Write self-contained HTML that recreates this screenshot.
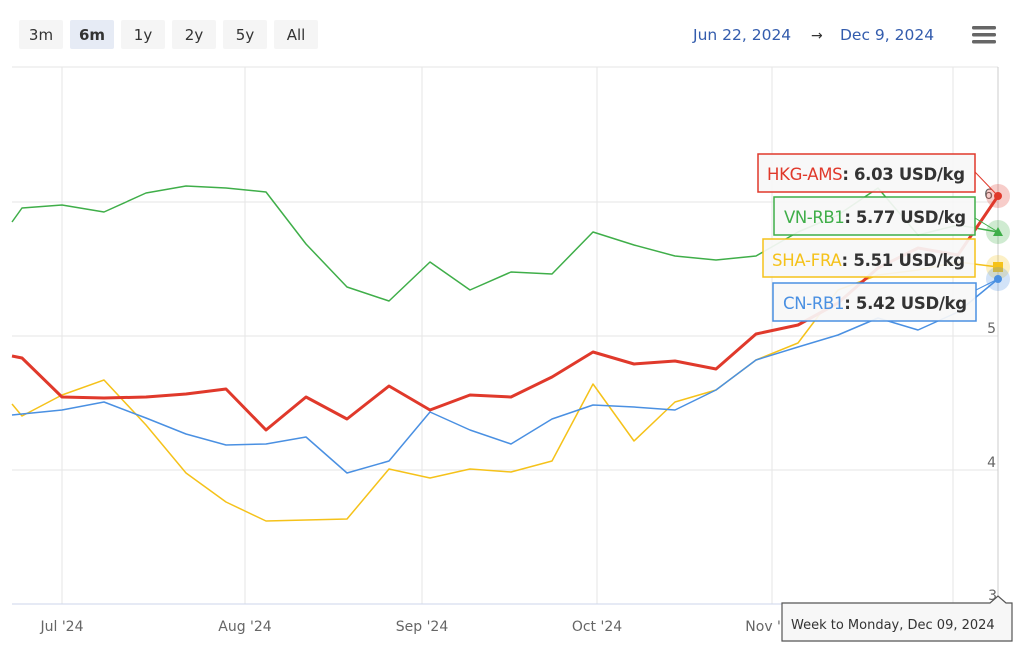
<!DOCTYPE html>
<html><head><meta charset="utf-8"><style>
body{margin:0;background:#fff;width:1024px;height:655px;overflow:hidden;font-family:"Liberation Sans","DejaVu Sans",sans-serif}
svg text{font-family:"DejaVu Sans","Liberation Sans",sans-serif}
</style></head><body>
<svg width="1024" height="655" xmlns="http://www.w3.org/2000/svg">
<g font-size="15" fill="#333">
<rect x="19" y="20" width="44" height="29" rx="2" fill="#f5f5f5"/><text x="41" y="40" text-anchor="middle">3m</text>
<rect x="70" y="20" width="44" height="29" rx="2" fill="#e6ebf5"/><text x="92" y="40" text-anchor="middle" font-weight="bold">6m</text>
<rect x="121" y="20" width="44" height="29" rx="2" fill="#f5f5f5"/><text x="143" y="40" text-anchor="middle">1y</text>
<rect x="172" y="20" width="44" height="29" rx="2" fill="#f5f5f5"/><text x="194" y="40" text-anchor="middle">2y</text>
<rect x="223" y="20" width="44" height="29" rx="2" fill="#f5f5f5"/><text x="245" y="40" text-anchor="middle">5y</text>
<rect x="274" y="20" width="44" height="29" rx="2" fill="#f5f5f5"/><text x="296" y="40" text-anchor="middle">All</text>
</g>
<text x="693" y="40" font-size="15.5" fill="#335cad">Jun 22, 2024</text>
<text x="811" y="40" font-size="14" fill="#333">→</text>
<text x="840" y="40" font-size="15.5" fill="#335cad">Dec 9, 2024</text>
<g fill="#666"><rect x="972" y="26" width="24" height="3.5" rx="1.5"/><rect x="972" y="33" width="24" height="3.5" rx="1.5"/><rect x="972" y="40" width="24" height="3.5" rx="1.5"/></g>
<g stroke="#e6e6e6" stroke-width="1">
<line x1="12" y1="67" x2="998" y2="67"/>
<line x1="12" y1="202" x2="998" y2="202"/><line x1="12" y1="336" x2="998" y2="336"/><line x1="12" y1="470" x2="998" y2="470"/>
<line x1="62" y1="67" x2="62" y2="604"/><line x1="245" y1="67" x2="245" y2="604"/><line x1="422" y1="67" x2="422" y2="604"/><line x1="597" y1="67" x2="597" y2="604"/><line x1="772" y1="67" x2="772" y2="604"/><line x1="953" y1="67" x2="953" y2="604"/>
</g>
<line x1="12" y1="604" x2="998" y2="604" stroke="#ccd6eb"/>
<line x1="998" y1="67" x2="998" y2="604" stroke="#ccc"/>
<g font-size="14" fill="#666">
<text x="993" y="199" text-anchor="end">6</text><text x="996" y="333" text-anchor="end">5</text><text x="996" y="467" text-anchor="end">4</text><text x="997" y="600" text-anchor="end">3</text>
<text x="62" y="631" text-anchor="middle">Jul '24</text><text x="245" y="631" text-anchor="middle">Aug '24</text><text x="422" y="631" text-anchor="middle">Sep '24</text><text x="597" y="631" text-anchor="middle">Oct '24</text><text x="772" y="631" text-anchor="middle">Nov '24</text>
</g>
<g fill="none" stroke-linejoin="round">
<polyline stroke="#3fae49" stroke-width="1.5" points="12,222 22,208 62,205 104,212 146,193 186,186 226,188 266,192 306,244 347,287 389,301 430,262 470,290 511,272 552,274 593,232 634,245 675,256 716,260 756,256 798,232 838,215 878,188 918,235 958,225 998,232"/>
<polyline stroke="#f5c21a" stroke-width="1.5" points="12,404 22,416 62,395 104,380 146,425 186,473 226,502 266,521 306,520 347,519 389,469 430,478 470,469 511,472 552,461 593,384 634,441 675,402 716,390 756,360 798,343 838,290 878,275 918,270 958,262 998,267"/>
<polyline stroke="#4a90e2" stroke-width="1.5" points="12,415 62,410 104,402 146,418 186,434 226,445 266,444 306,437 347,473 389,461 430,412 470,430 511,444 552,419 593,405 634,407 675,410 716,390 756,360 798,347 838,335 878,318 918,330 958,312 998,279"/>
<polyline stroke="#e0392b" stroke-width="3" points="12,356 22,358 62,397 104,398 146,397 186,394 226,389 266,430 306,397 347,419 389,386 430,410 470,395 511,397 552,377 593,352 634,364 675,361 716,369 756,334 798,325 838,303 878,268 918,248 958,255 998,196"/>
</g>
<circle cx="998" cy="196" r="12" fill="#e0392b" opacity="0.25"/><circle cx="998" cy="196" r="4" fill="#e0392b"/>
<circle cx="998" cy="232" r="12" fill="#3fae49" opacity="0.25"/><polygon points="998,227 1003,236 993,236" fill="#3fae49"/>
<circle cx="998" cy="267" r="12" fill="#f5c21a" opacity="0.25"/><rect x="993" y="262" width="10" height="10" fill="#f5c21a"/>
<circle cx="998" cy="279" r="12" fill="#4a90e2" opacity="0.25"/><circle cx="998" cy="279" r="4" fill="#4a90e2"/>
<g font-size="16.5" font-weight="bold" fill="#333">
<rect x="758" y="154" width="217" height="38" fill="#f7f7f7" fill-opacity="0.92" stroke="#e0392b" stroke-width="1.5"/>
<line x1="975" y1="172" x2="998" y2="196" stroke="#e0392b"/>
<text x="767" y="180" textLength="198"><tspan fill="#e0392b" font-weight="normal">HKG-AMS</tspan>: 6.03 USD/kg</text>
<rect x="774" y="197" width="201" height="38" fill="#f7f7f7" fill-opacity="0.92" stroke="#3fae49" stroke-width="1.5"/>
<line x1="975" y1="218" x2="998" y2="232" stroke="#3fae49"/>
<text x="784" y="223" textLength="182"><tspan fill="#3fae49" font-weight="normal">VN-RB1</tspan>: 5.77 USD/kg</text>
<rect x="763" y="239" width="212" height="38" fill="#f7f7f7" fill-opacity="0.92" stroke="#f5c21a" stroke-width="1.5"/>
<text x="772" y="266" textLength="193"><tspan fill="#f5c21a" font-weight="normal">SHA-FRA</tspan>: 5.51 USD/kg</text>
<rect x="773" y="283" width="203" height="38" fill="#f7f7f7" fill-opacity="0.92" stroke="#4a90e2" stroke-width="1.5"/>
<line x1="976" y1="290" x2="998" y2="279" stroke="#4a90e2"/>
<text x="783" y="309" textLength="184"><tspan fill="#4a90e2" font-weight="normal">CN-RB1</tspan>: 5.42 USD/kg</text>
</g>
<path d="M782,603 H990 L998,596 L1006,603 H1012 V641 H782 Z" fill="#f7f7f7" stroke="#555" stroke-width="1.2"/>
<text x="791" y="629" font-size="13" fill="#333">Week to Monday, Dec 09, 2024</text>
</svg>
</body></html>
